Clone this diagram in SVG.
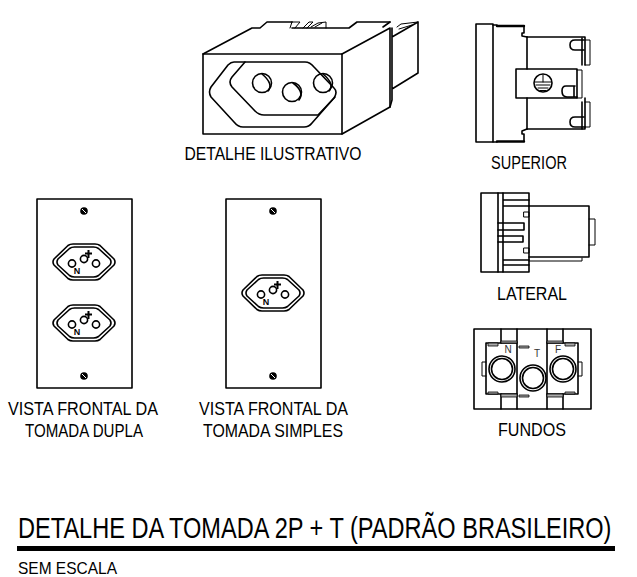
<svg xmlns="http://www.w3.org/2000/svg" width="637" height="577" viewBox="0 0 637 577">
<style>
.l{fill:none;stroke:#000;stroke-width:1.6;stroke-linejoin:round;stroke-linecap:round}
.t{stroke-width:1}
.h{stroke-width:2.4}
.g{fill:#aaa;stroke:#000;stroke-width:.8}
text{font-family:"Liberation Sans",Arial,sans-serif;fill:#000;text-anchor:middle}
.c{font-size:18px}
.n{font-weight:bold;font-size:8px}
.m{font-size:10px;fill:#333}
</style>
<defs>
<g id="socket">
<path class="l" d="M-30 -3 L-16 -16.500 Q-14 -18 -11 -18 L11 -18 Q14 -18 16 -16.500 L30 -3 Q32 0 30 3 L16 16.500 Q14 18 11 18 L-11 18 Q-14 18 -16 16.500 L-30 3 Q-32 0 -30 -3Z"/>
<path class="l" d="M-26 -3 L-14.500 -13.500 Q-12.500 -15 -9.500 -15 L9.500 -15 Q12.500 -15 14.500 -13.500 L26 -3 Q28 0 26 3 L14.500 13.500 Q12.500 15 9.500 15 L-9.500 15 Q-12.500 15 -14.500 13.500 L-26 3 Q-28 0 -26 -3Z"/>
<circle class="l" cx="-12" cy="1.500" r="3.600"/><circle class="l" cx="0" cy="-3" r="3.600"/><circle class="l" cx="12" cy="1.500" r="3.600"/>
<path d="M1 -8.500h7M4.500 -12v8" stroke="#000" stroke-width="2" fill="none"/>
<text class="n" x="-7" y="11.500" style="font-size:9px">N</text>
</g>
<g id="screw"><circle cx="0" cy="0" r="3.800" fill="#000"/><path d="M-2 -2L2 2" stroke="#fff" stroke-width="1"/></g>
</defs>

<g id="detalhe">
<path class="l" d="M203 54 H342 V134 H203Z"/>
<path class="l" d="M203 54 L252 28 H260 L267 22 H292 M292 28 H349 L357 22 H390 M342 54 L390 28 V107 L342 134"/>
<path class="l t" d="M292 22 L290 28 M292 22 H300 L295 28 M303 28 L309 22 H313 L307 28 M311 27 L318 23 L326 22 V28 M315 27 L322 23"/>
<path class="l" d="M383 27 L390 22 M392 37 L418 22 V73 L392 89 M392 28 V100 L390 107"/>
<path class="l t" d="M397 27 L401 24 L418 22 M399 29 L412 25"/>
<path class="l" d="M245 62 H234 Q231 62 228 65 L211 87 Q208 92 211 97 L234 122 Q238 127 243 127 H304 Q309 127 312 123 L334 98 Q338 92 334 88 L314 67 Q310 62 305 62 H245"/>
<path class="l" d="M245 62 L232 77 Q228 82 232 87 L255 111 Q259 115 264 115 H318 L335 97"/>
<circle class="l" cx="262" cy="83" r="9.500"/><path class="l" d="M262 74 Q274 84 268 91"/>
<circle class="l" cx="292" cy="92" r="9.500"/><path class="l" d="M293 83 Q305 92 299 100"/>
<circle class="l" cx="323" cy="83" r="9.500"/><path class="l" d="M323 74 Q335 84 329 91"/>
<text class="c" x="273" y="160" textLength="177" lengthAdjust="spacingAndGlyphs">DETALHE ILUSTRATIVO</text>
</g>

<g id="superior">
<path class="l" d="M476 24 H493 V142 H476Z"/>
<path class="l" d="M493 25 H497 V26 M527 37 V69 M527 98 V129 M493 142 H497"/>
<path class="h l" d="M497 26 H524 M497 141.500 H524"/>
<path class="l" d="M524 26 V33 H522 V36 L527 37 M524 141.500 V134 H522 V131 L527 129"/>
<path class="l" d="M527 37 H585 V65 M527 129 H585 V98"/>
<path class="l t" d="M585 40 H590 V65 H585 M585 102 H590 V127 H585"/>
<path class="l" d="M584 40 H575 Q570 40 570 45 Q570 50 575 50 H584 M582 38 V65"/>
<path class="l" d="M584 117 H575 Q570 117 570 122 Q570 127 575 127 H585 M582 102 V129"/>
<path class="l" d="M516 69 H577 V98 H516Z"/>
<path class="l t" d="M577 70 H582 V98 H577"/>
<path class="l" d="M575 86 H566 Q562 86 562 91 Q562 97 567 97 H577 M574 86 V97"/>
<circle class="l" cx="543" cy="83" r="9"/>
<path class="l t" d="M543 75 V82 M535 82 H551 M536 85 H550 M538 88 H548 M540 90.500 H546"/>
<text class="c" x="529" y="169" textLength="76" lengthAdjust="spacingAndGlyphs">SUPERIOR</text>
</g>

<g id="lateral">
<path class="l" d="M481 193 H529 V272 H481Z"/>
<path class="l" d="M498 193 V272 M503 193 V272 M503 200 H529 M503 206 H529 M503 260 H529 M503 265 H529"/>
<path class="l" d="M529 206 H589 V257 H529"/>
<path class="l t" d="M589 219 H595 V245 H589 M529 261 H582 V258"/>
<path class="l" d="M498 223 H524 V230 H498 M498 236 H523 V242 H498"/>
<path class="l t" d="M524 212 H529 V217 H524Z M524 248 H529 V253 H524Z"/>
<text class="c" x="532" y="300" textLength="70" lengthAdjust="spacingAndGlyphs">LATERAL</text>
</g>

<g id="fundos">
<path class="l" d="M474 329 H591 V409 H474Z"/>
<path class="l" d="M501 329 V343 M517 329 V409 M547 329 V409 M563 329 V343 M501 394 V409 M563 394 V409"/>
<path class="l" d="M486 343 H517 M547 343 H578 V394 H547 M517 394 H486 V343"/>
<path class="g" d="M501 341 H517 V343 H501Z M547 341 H563 V343 H547Z M501 394 H517 V397 H501Z M547 394 H563 V397 H547Z"/>
<path class="g" d="M488 343 H498 V346 H488Z M565 343 H575 V346 H565Z M488 392 H498 V394 H488Z M565 392 H575 V394 H565Z M519 346 H529 V348 H519Z M519 395 H529 V397 H519Z"/>
<path class="l t" d="M486 362 H482 V376 H486 M578 362 H582 V376 H578"/>
<circle class="l" cx="502" cy="369" r="13"/><circle class="l" cx="502" cy="369" r="10.500"/>
<circle class="l" cx="533" cy="378" r="13"/><circle class="l" cx="533" cy="378" r="10.500"/>
<circle class="l" cx="563" cy="369" r="13"/><circle class="l" cx="563" cy="369" r="10.500"/>
<text class="m" x="508" y="353">N</text><text class="m" x="537" y="357">T</text><text class="m" x="558" y="353">F</text>
<text class="c" x="532" y="436" textLength="68" lengthAdjust="spacingAndGlyphs">FUNDOS</text>
</g>

<g id="dupla">
<rect class="l" x="37" y="199" width="95" height="189"/>
<use href="#screw" x="84" y="211"/><use href="#screw" x="84" y="376"/>
<use href="#socket" x="84" y="262"/><use href="#socket" x="84" y="323"/>
<text class="c" x="83" y="415" textLength="150" lengthAdjust="spacingAndGlyphs">VISTA FRONTAL DA</text><text class="c" x="84" y="437" textLength="118" lengthAdjust="spacingAndGlyphs">TOMADA DUPLA</text>
</g>

<g id="simples">
<rect class="l" x="226" y="199" width="95" height="189"/>
<use href="#screw" x="273" y="211"/><use href="#screw" x="273" y="376"/>
<use href="#socket" x="273" y="293"/>
<text class="c" x="273.500" y="415" textLength="149" lengthAdjust="spacingAndGlyphs">VISTA FRONTAL DA</text><text class="c" x="273" y="437" textLength="140" lengthAdjust="spacingAndGlyphs">TOMADA SIMPLES</text>
</g>

<g id="titulo">
<text transform="translate(18 538) scale(.83 1)" x="0" y="0" font-size="29" style="text-anchor:start" textLength="715" lengthAdjust="spacingAndGlyphs">DETALHE DA TOMADA 2P + T (PADRÃO BRASILEIRO)</text>
<rect x="17" y="546" width="598" height="5" fill="#000"/>
<text x="18" y="574" font-size="17" style="text-anchor:start" textLength="99" lengthAdjust="spacingAndGlyphs">SEM ESCALA</text>
</g>
</svg>
